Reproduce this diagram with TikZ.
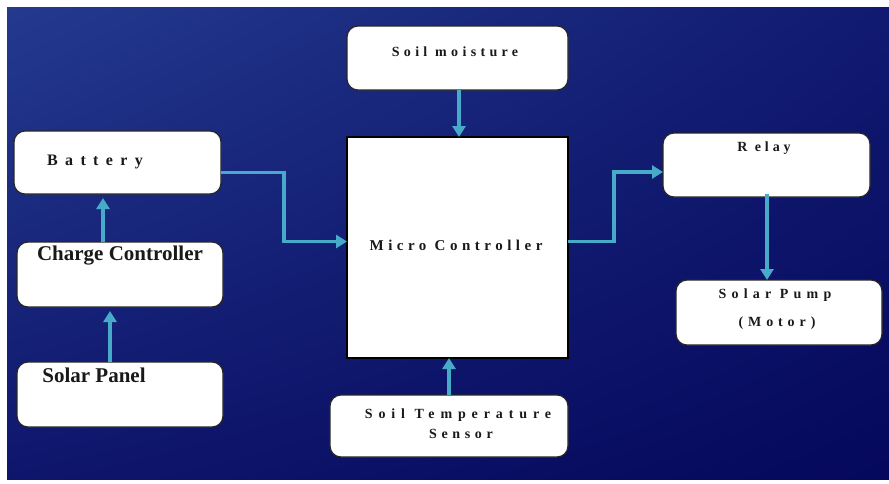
\documentclass[tikz,border=0pt]{standalone}
\usepackage{fontspec}
\setmainfont{Liberation Serif}
\usetikzlibrary{arrows.meta,calc,shadings}

\definecolor{bgA}{RGB}{36,58,142}
\definecolor{bgB}{RGB}{16,26,112}
\definecolor{bgC}{RGB}{14,22,108}
\definecolor{bgD}{RGB}{5,8,92}
\definecolor{wire}{RGB}{70,170,200}

% letter-spaced small label: #1 = size, #2 = spacing, #3 = text
\newcommand{\spacedlabel}[3]{\fontsize{#1}{#1}\selectfont\bfseries\addfontfeatures{LetterSpace=#2}#3}

\tikzset{
  box/.style={draw=black!85, line width=1.2pt, fill=white, rounded corners=11pt,
              inner sep=0pt, outer sep=0pt},
  corebox/.style={draw=black, line width=2.6pt, fill=white, inner sep=0pt, outer sep=0pt},
  lbl/.style={inner sep=0pt, text=black!90},
  biglbl/.style={inner sep=0pt, text=black!90, font=\fontsize{21}{23}\selectfont\bfseries},
  flow/.style={draw=wire, line width=3.8pt,
               -{Triangle[width=13pt,length=11pt]}},
}

\begin{document}
\begin{tikzpicture}[x=1pt,y=-1pt]
  % page and backdrop
  \useasboundingbox (0,0) rectangle (889,483);
  \fill[white] (0,0) rectangle (889,483);
  \shade[upper left=bgA, upper right=bgB, lower left=bgC, lower right=bgD]
    (7,7) rectangle (889,479);

  % blocks
  \node[box, minimum width=221pt, minimum height=64pt] (moist) at (457.5,58) {};
  \node[corebox, minimum width=221pt, minimum height=221pt] (mc) at (457.5,247.5) {};
  \node[box, minimum width=207pt, minimum height=63pt] (batt) at (117.5,162.5) {};
  \node[box, minimum width=206pt, minimum height=65pt] (charge) at (120,274.5) {};
  \node[box, minimum width=206pt, minimum height=65pt] (panel) at (120,394.5) {};
  \node[box, minimum width=207pt, minimum height=64pt] (relay) at (766.5,165) {};
  \node[box, minimum width=206pt, minimum height=65pt] (pump) at (779,312.5) {};
  \node[box, minimum width=238pt, minimum height=62pt] (temp) at (449,426) {};

  % labels
  \node[lbl] (tmoist) at (455,52) {\spacedlabel{14}{31}{Soil moisture}};
  \node[lbl] (tmc) at (456,245) {\spacedlabel{15}{30}{Micro Controller}};
  \node[lbl] (tbatt) at (95,162) {\spacedlabel{16}{46}{Battery}};
  \node[biglbl] (tcharge) at (120,256) {Charge Controller};
  \node[biglbl] (tpanel) at (94,375) {Solar Panel};
  \node[lbl] (trelay) at (764,148) {\spacedlabel{14}{28}{R elay}};
  \node[lbl] (tpump) at (775,295) {\spacedlabel{14}{37}{Solar Pump}};
  \node[lbl] (tmotor) at (777,323) {\spacedlabel{14}{35}{(Motor)}};
  \node[lbl] (ttemp) at (458,415) {\spacedlabel{14}{42}{Soil Temperature}};
  \node[lbl] (tsensor) at (461,434) {\spacedlabel{14}{33}{Sensor}};

  % connections
  \draw[flow] ([xshift=1.5pt]moist.south) -- ([xshift=1.5pt]mc.north);
  \draw[flow] (temp.north) -- (temp.north |- mc.south);
  \draw[flow] ([yshift=-10pt]batt.east) -- ++(63,0) |- ([yshift=6pt]mc.west);
  \draw[flow] ([yshift=6pt]mc.east) -- ++(46,0) |- ([yshift=-7pt]relay.west);
  \draw[flow] ([xshift=0.5pt,yshift=3pt]relay.south) -- ([xshift=0.5pt]relay.south |- pump.north);
  \draw[flow, shorten >=4pt] ([xshift=-17pt]charge.north) -- ([xshift=-17pt]charge.north |- batt.south);
  \draw[flow, shorten >=4pt] ([xshift=-10pt]panel.north) -- ([xshift=-10pt]panel.north |- charge.south);
\end{tikzpicture}
\end{document}
